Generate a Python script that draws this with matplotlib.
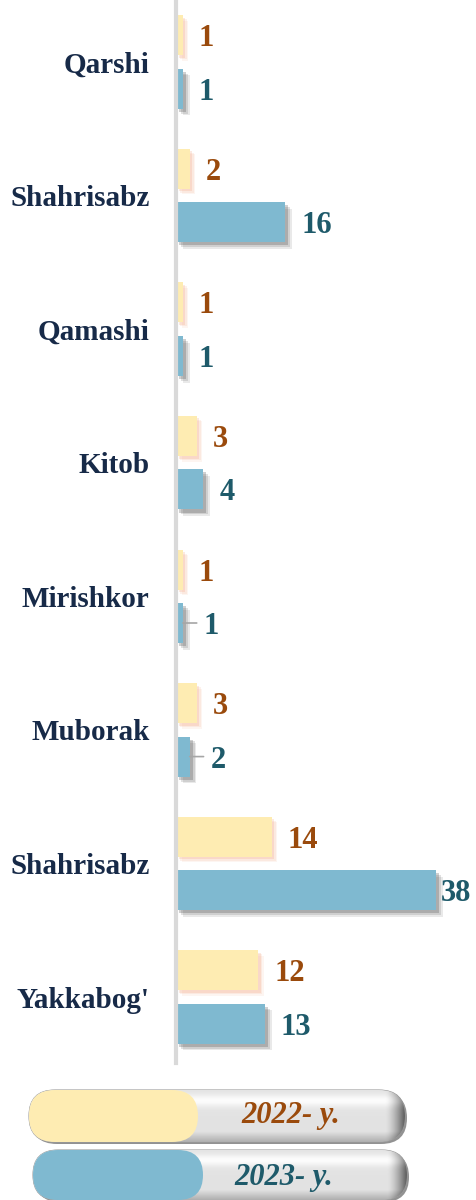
import numpy as np
import matplotlib
matplotlib.use('Agg')
import matplotlib.pyplot as plt
import matplotlib.patheffects as pe
from matplotlib.patches import FancyBboxPatch

# data
districts = ['Qarshi', 'Shahrisabz', 'Qamashi', 'Kitob', 'Mirishkor',
             'Muborak', 'Shahrisabz', "Yakkabog'"]
y2022 = [1, 2, 1, 3, 1, 3, 14, 12]
y2023 = [1, 16, 1, 4, 1, 2, 38, 13]
series_names = ['2022- y.', '2023- y.']

plt.rcParams['font.family'] = ['Liberation Serif', 'DejaVu Serif']

c_yel, c_blue = '#feecb2', '#7fb9d0'
t_yel, t_blue = '#9a4a0c', '#1e5a6a'
navy = '#172a48'

fig = plt.figure(figsize=(4.76, 12), dpi=100)
ax = fig.add_axes([176 / 476, 1 - 1063 / 1200, 300 / 476, 1063 / 1200])

pos = np.arange(len(districts))
h = 0.30

def shadow(col, off, a):
    # a few stacked offsets to fake a soft drop shadow
    fx = [pe.SimplePatchShadow(offset=(off * k, -off * k), shadow_rgbFace=col, alpha=a / k)
          for k in (2.2, 1.6, 1.0)]
    return fx + [pe.Normal()]

b1 = ax.barh(pos - 0.2, y2022, height=h, color=c_yel, zorder=3)
b2 = ax.barh(pos + 0.2, y2023, height=h, color=c_blue, zorder=3)
for r in b1:
    r.set_path_effects(shadow('#f2a07a', 1.8, 0.22))
for r in b2:
    r.set_path_effects(shadow('#444444', 2.2, 0.25))

# value labels (offset in points); some blue labels use a small leader line
off2023 = {4: 15, 5: 15, 6: 3.5}
leader = {4, 5}
dy = -2.5
for i, v in enumerate(y2022):
    ax.annotate(str(v), (v, i - 0.2), xytext=(11.5, dy), textcoords='offset points',
                ha='left', va='center', fontsize=22, fontweight='bold', color=t_yel, zorder=5)
for i, v in enumerate(y2023):
    dx = off2023.get(i, 11.5)
    ax.annotate(str(v), (v, i + 0.2), xytext=(dx, dy), textcoords='offset points',
                ha='left', va='center', fontsize=22, fontweight='bold', color=t_blue, zorder=5)
    if i in leader:
        ax.annotate('', (v, i + 0.2), xytext=(dx - 5, 0), textcoords='offset points',
                    arrowprops=dict(arrowstyle='-', color='#a6a6a6', lw=1.2,
                                    shrinkA=0, shrinkB=0))

ax.set_xlim(0, 300 / 6.84)
ax.set_ylim(7 + 66 / 133.6, -62 / 133.6)
ax.set_yticks(pos)
ax.set_yticklabels(districts, fontsize=21, fontweight='bold', color=navy)
ax.tick_params(axis='y', length=0, pad=19)
ax.set_xticks([])
for s in ['top', 'right', 'bottom']:
    ax.spines[s].set_visible(False)
ax.spines['left'].set_color('#d9d9d9')
ax.spines['left'].set_linewidth(3)
ax.spines['left'].set_zorder(4)

# legend pills drawn in pixel coordinates
lax = fig.add_axes([0, 0, 1, 1], zorder=10)
lax.set_xlim(0, 476)
lax.set_ylim(1200, 0)
lax.axis('off')
lax.patch.set_alpha(0)

pills = [(29, 1090, 376, 52, 169, c_yel, t_yel, 291, 1116),
         (33, 1150, 374, 50, 170, c_blue, t_blue, 284, 1177)]
for (x0, y0, w, hh, cw, col, tcol, tx, ty), name in zip(pills, series_names):
    r = hh / 2
    sh = FancyBboxPatch((x0 + 2, y0 + 2), w, hh, boxstyle=f'round,pad=0,rounding_size={r}',
                        fc='#4a4a4a', ec='none', alpha=0.6, zorder=1)
    lax.add_patch(sh)
    body = FancyBboxPatch((x0, y0), w, hh, boxstyle=f'round,pad=0,rounding_size={r}',
                          fc='#e3e3e3', ec='#9a9a9a', lw=0.8, zorder=2)
    lax.add_patch(body)
    # glossy gradient
    ny, nx = 60, 200
    yy = np.linspace(0, 1, ny)[:, None]
    xx = np.linspace(0, 1, nx)[None, :]
    v = 0.89 + 0.1 * np.exp(-((yy - 0.2) / 0.12) ** 2) - 0.2 * np.clip((yy - 0.8) / 0.2, 0, 1)
    v = v - 0.5 * np.clip((xx - 0.95) / 0.05, 0, 1) ** 1.5
    v = np.clip(v, 0, 1)
    img = np.dstack([v, v, v]) * np.ones((ny, nx, 1))
    im = lax.imshow(img, extent=(x0, x0 + w, y0 + hh, y0), aspect='auto', zorder=3,
                    interpolation='bilinear')
    im.set_clip_path(body)
    lax.add_patch(FancyBboxPatch((x0, y0), cw, hh, boxstyle=f'round,pad=0,rounding_size={r}',
                                 fc=col, ec='none', zorder=4))
    lax.text(tx, ty, name, ha='center', va='center', fontsize=22, fontweight='bold',
             fontstyle='italic', color=tcol, zorder=5)

fig.savefig('out.png', dpi=100)
